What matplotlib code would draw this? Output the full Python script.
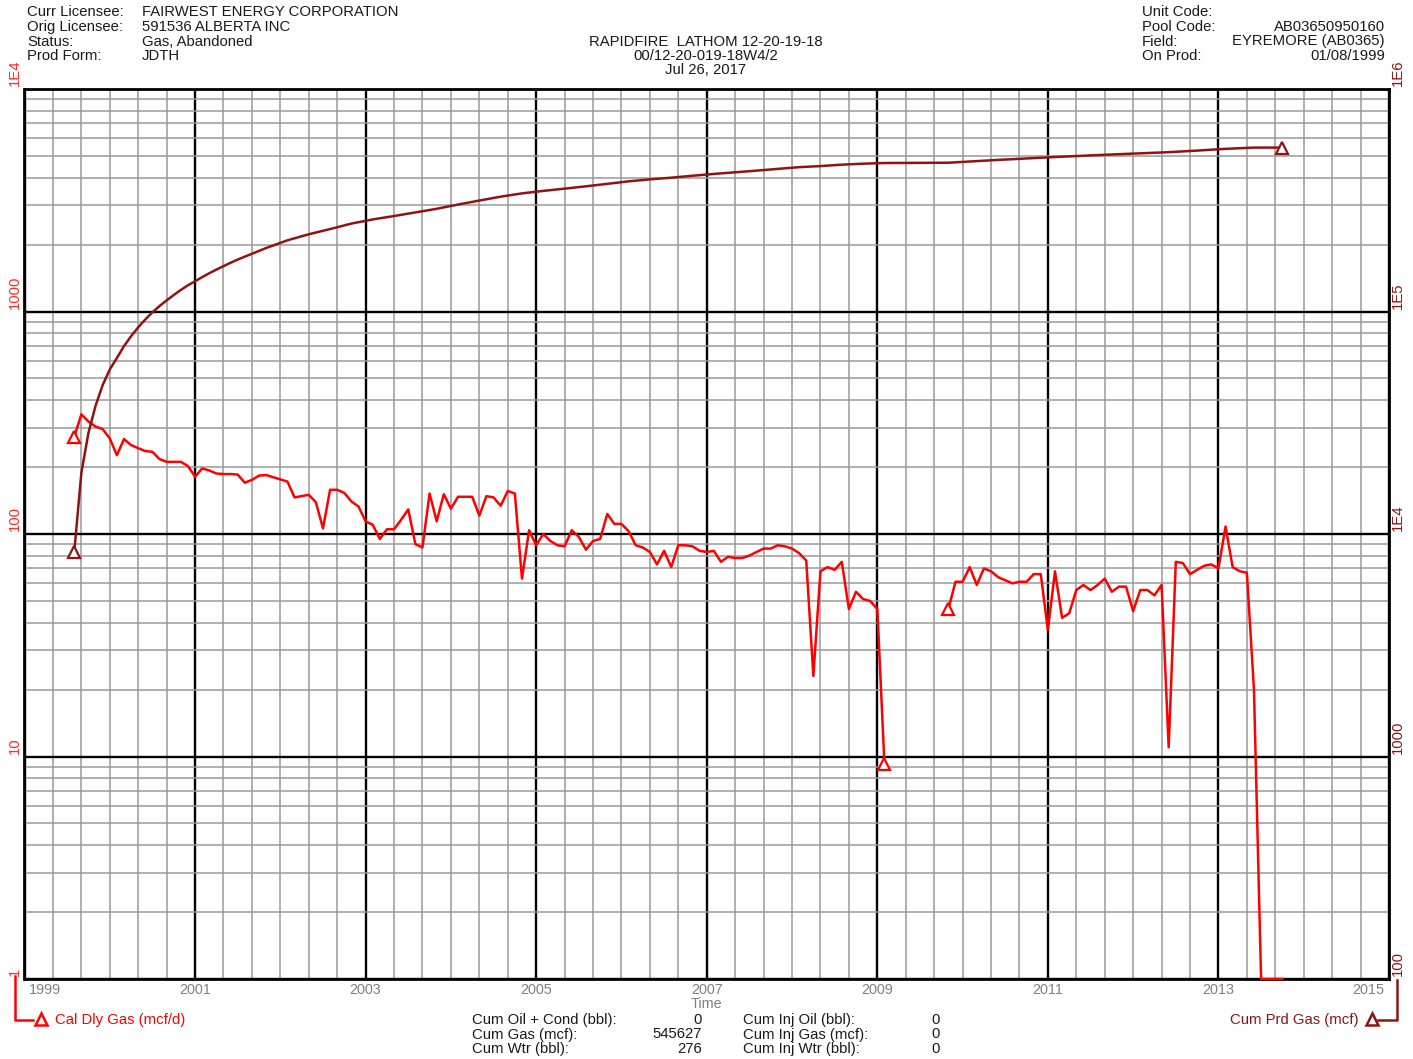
import numpy as np
import matplotlib
matplotlib.use("Agg")
import matplotlib.pyplot as plt
from matplotlib.lines import Line2D
from matplotlib.ticker import FixedLocator, LogLocator, NullFormatter, NullLocator

plt.rcParams['font.family'] = ['Liberation Sans', 'DejaVu Sans']

# ---------------- data ----------------
start_year, start_month = 1999, 8          # first production month (Aug 1999)

# Calendar daily gas (mcf/d), monthly, Aug 1999 .. Oct 2013 (nan = no production, 0 = shut in)
cal_dly_gas = [
    273, 345, 320, 304, 296, 269, 226, 267, 251, 243, 236, 234, 217, 211, 211, 211, 202,
    181, 197, 193, 187, 186, 186, 185, 170, 175, 183, 184, 180, 176, 172, 146, 148, 150, 139, 106,
    158, 158, 153, 140, 133, 114, 110, 95, 105, 105, 116, 129, 90, 87,
    152, 114, 151, 130, 147, 147, 147, 121, 148, 146, 134, 156, 152,
    63, 104, 89, 100, 93, 89, 88, 104, 97, 85, 93, 95,
    123, 111, 111, 103, 89, 87, 83, 73, 84, 71, 89, 89, 88, 84, 83, 84,
    75, 79, 78, 78, 80, 83, 86, 86, 89, 88, 86, 82, 76,
    23, 68, 71, 69, 75, 46, 55, 51, 50, 46, 9.3,
    np.nan, np.nan, np.nan, np.nan, np.nan, np.nan, np.nan, np.nan,
    46, 61, 61, 71, 59, 70, 68, 64, 62, 60, 61, 61, 66, 66,
    37, 68, 42, 44, 56, 59, 56, 59, 63, 55, 58, 58, 45, 56, 56, 53, 59,
    11, 75, 74, 66, 69, 72, 73, 70, 108, 71, 68, 67, 20,
    0, 0, 0, 0,
]
rate_marker_months = [0, 114, 123]

# Cumulative produced gas (mcf) at selected month indices
cum_months = [0, 1, 2, 3, 4, 5, 6, 7, 8, 9, 10, 11, 12, 13, 14, 15, 16, 17, 18, 19, 20,
              21, 22, 23, 24, 27, 30, 33, 36, 39, 42, 45, 48, 51, 54, 57, 60, 63, 66, 69, 72,
              75, 78, 81, 84, 87, 90, 93, 96, 99, 102, 105, 108, 111, 114, 123, 130, 138,
              146, 154, 158, 162, 166, 170]
cum_prd_gas = [8300, 18800, 28500, 37700, 46700, 54900, 61800, 69900, 77500, 84900, 92100,
               99200, 105800, 112200, 118600, 125000, 131200, 136700, 142700, 148600, 154300,
               159900, 165600, 171200, 176400, 192900, 208900, 222400, 234700, 248400, 259300,
               268600, 278800, 289500, 302500, 315200, 328200, 339500, 348400, 356600, 365300,
               374700, 384600, 392500, 399400, 407500, 415200, 422300, 429600, 437500, 445300,
               450400, 457000, 461700, 464900, 466300, 480100, 494700, 507900, 520000, 528600,
               538400, 545300, 545300]
cum_marker_months = [0, 170]

year_ticks = [1999, 2001, 2003, 2005, 2007, 2009, 2011, 2013, 2015]
left_vals = [1, 10, 100, 1000, 10000]
left_labels = ['1', '10', '100', '1000', '1E4']
right_vals = [100, 1000, 10000, 100000, 1000000]
right_labels = ['100', '1000', '1E4', '1E5', '1E6']

header_left = [("Curr Licensee:", "FAIRWEST ENERGY CORPORATION"),
               ("Orig Licensee:", "591536 ALBERTA INC"),
               ("Status:", "Gas, Abandoned"),
               ("Prod Form:", "JDTH")]
header_right = [("Unit Code:", ""),
                ("Pool Code:", "AB03650950160"),
                ("Field:", "EYREMORE (AB0365)"),
                ("On Prod:", "01/08/1999")]
title_lines = ["RAPIDFIRE  LATHOM 12-20-19-18", "00/12-20-019-18W4/2", "Jul 26, 2017"]
stats_left = [("Cum Oil + Cond (bbl):", "0"), ("Cum Gas (mcf):", "545627"), ("Cum Wtr (bbl):", "276")]
stats_right = [("Cum Inj Oil (bbl):", "0"), ("Cum Inj Gas (mcf):", "0"), ("Cum Inj Wtr (bbl):", "0")]

# ---------------- figure ----------------
W, H = 1413, 1059
fig = plt.figure(figsize=(W / 100, H / 100), dpi=100)

L, R, T, B = 24.5, 1389, 89, 979
ax = fig.add_axes([L / W, 1 - B / H, (R - L) / W, (B - T) / H])

RED = '#FF0000'
DRED = '#8E1414'
TXT = '#1a1a1a'
GREY = '#808080'
FS = 10.7


def month_to_year(i):
    return start_year + (start_month - 1 + np.asarray(i, dtype=float)) / 12.0


rate = np.array(cal_dly_gas, dtype=float)
x_rate = month_to_year(np.arange(len(rate)))
rate_plot = np.where(rate <= 0, 1.0, rate)

ax.set_yscale('log')
ax.set_xlim(1999, 2015)
ax.set_ylim(1, 1e4)

ax.xaxis.set_major_locator(FixedLocator(year_ticks))
ax.xaxis.set_minor_locator(FixedLocator(np.arange(1999, 2015.001, 1 / 3)))
ax.yaxis.set_major_locator(LogLocator(base=10))
ax.yaxis.set_minor_locator(LogLocator(base=10, subs=np.arange(2, 10)))
ax.xaxis.set_major_formatter(NullFormatter())
ax.xaxis.set_minor_formatter(NullFormatter())
ax.yaxis.set_major_formatter(NullFormatter())
ax.yaxis.set_minor_formatter(NullFormatter())
ax.tick_params(which='both', length=0)
ax.grid(which='minor', color='#9a9a9a', linewidth=1.1)
ax.grid(which='major', color='black', linewidth=1.7)
ax.set_axisbelow(True)
for s in ax.spines.values():
    s.set_linewidth(2)
    s.set_color('black')

ax.plot(x_rate, rate_plot, color=RED, linewidth=1.8, zorder=4, clip_on=False)
ax.plot(x_rate[rate_marker_months], rate_plot[rate_marker_months], linestyle='none',
        marker='^', markersize=8, markerfacecolor='white', markeredgecolor=RED,
        markeredgewidth=1.6, zorder=5, clip_on=False)

ax2 = ax.twinx()
ax2.set_yscale('log')
ax2.set_ylim(100, 1e6)
ax2.set_xlim(1999, 2015)
ax2.yaxis.set_major_locator(NullLocator())
ax2.yaxis.set_minor_locator(NullLocator())
ax2.tick_params(which='both', length=0)
for s in ax2.spines.values():
    s.set_visible(False)
x_cum = month_to_year(cum_months)
cum = np.array(cum_prd_gas, dtype=float)
ax2.plot(x_cum, cum, color=DRED, linewidth=1.8, zorder=4)
cm_idx = [cum_months.index(m) for m in cum_marker_months]
ax2.plot(x_cum[cm_idx], cum[cm_idx], linestyle='none', marker='^', markersize=8,
         markerfacecolor='white', markeredgecolor=DRED, markeredgewidth=1.6, zorder=5,
         clip_on=False)

# y labels (rotated)
ytr = ax.get_yaxis_transform()
for v, lab in zip(left_vals, left_labels):
    ax.text(-0.0068, v * 1.03, lab, transform=ytr, rotation=90, ha='center', va='bottom',
            color='#FF2a2a', fontsize=FS)
ytr2 = ax2.get_yaxis_transform()
for v, lab in zip(right_vals, right_labels):
    ax2.text(1.0066, v * 1.03, lab, transform=ytr2, rotation=90, ha='center', va='bottom',
             color=DRED, fontsize=FS)

# x labels
xtr = ax.get_xaxis_transform()
for yr in year_ticks:
    if yr == year_ticks[0]:
        ax.text(yr + 0.05, -0.0125, str(yr), transform=xtr, ha='left', va='center',
                color=GREY, fontsize=FS - 0.3)
    elif yr == year_ticks[-1]:
        ax.text(yr - 0.05, -0.0125, str(yr), transform=xtr, ha='right', va='center',
                color=GREY, fontsize=FS - 0.3)
    else:
        ax.text(yr, -0.0125, str(yr), transform=xtr, ha='center', va='center',
                color=GREY, fontsize=FS - 0.3)


def ftext(x, y, s, **kw):
    kw.setdefault('fontsize', FS)
    kw.setdefault('color', TXT)
    kw.setdefault('va', 'center')
    fig.text(x / W, 1 - y / H, s, **kw)


ftext(706, 1004, "Time", ha='center', color=GREY, fontsize=FS - 0.3)

rows_y = [12, 27, 41.5, 56]
for (lab, val), y in zip(header_left, rows_y):
    ftext(27, y, lab)
    ftext(142, y, val)
for (lab, val), y in zip(header_right, rows_y):
    ftext(1142, y, lab)
    ftext(1385, y, val, ha='right')
for s, y in zip(title_lines, [41.5, 56, 70.5]):
    ftext(706, y, s, ha='center')

stats_y = [1020, 1034.5, 1049]
for (lab, val), y in zip(stats_left, stats_y):
    ftext(472, y, lab)
    ftext(702, y, val, ha='right')
for (lab, val), y in zip(stats_right, stats_y):
    ftext(743, y, lab)
    ftext(940, y, val, ha='right')

# legend brackets
def fline(xs, ys, color):
    fig.add_artist(Line2D([x / W for x in xs], [1 - y / H for y in ys],
                          transform=fig.transFigure, color=color, linewidth=1.8))


def fmark(x, y, color):
    fig.add_artist(Line2D([x / W], [1 - y / H], transform=fig.transFigure, linestyle='none',
                          marker='^', markersize=8, markerfacecolor='white',
                          markeredgecolor=color, markeredgewidth=1.8))


fline([15, 15, 33], [976, 1020, 1020], RED)
fmark(41, 1019, RED)
ftext(55, 1020, "Cal Dly Gas (mcf/d)", color=RED)

fline([1378, 1397, 1397], [1020, 1020, 980], DRED)
fmark(1372, 1019, DRED)
ftext(1358, 1020, "Cum Prd Gas (mcf)", color=DRED, ha='right')

fig.savefig("out.png", dpi=100)
